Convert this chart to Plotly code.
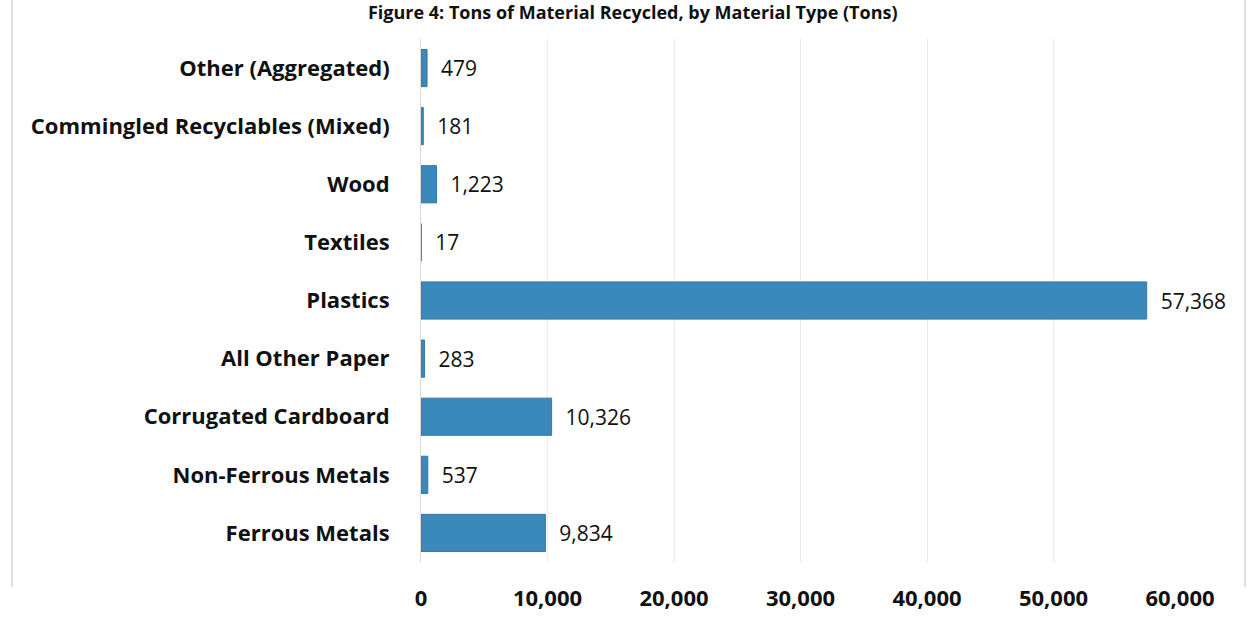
import plotly.graph_objects as go

# Recycled tonnage by material (top row first)
materials = [
    "Other (Aggregated)",
    "Commingled Recyclables (Mixed)",
    "Wood",
    "Textiles",
    "Plastics",
    "All Other Paper",
    "Corrugated Cardboard",
    "Non-Ferrous Metals",
    "Ferrous Metals",
]
tons = [479, 181, 1223, 17, 57368, 283, 10326, 537, 9834]
x_ticks = [0, 10000, 20000, 30000, 40000, 50000, 60000]
x_tick_labels = ["0", "10,000", "20,000", "30,000", "40,000", "50,000", "60,000"]
title_text = "Figure 4: Tons of Material Recycled, by Material Type (Tons)"

W, H = 1248, 625
ML, MR, MT, MB = 421, 68, 39, 63
pw, ph = W - ML - MR, H - MT - MB
FONT = "Open Sans"

fig = go.Figure()
fig.add_trace(go.Bar(
    x=tons,
    y=materials,
    orientation="h",
    width=0.64,
    marker=dict(color="#3b88bb", line=dict(color="#3479a9", width=1)),
    text=tons,
    texttemplate="\u00a0\u00a0%{x:,.0f}",
    textposition="outside",
    cliponaxis=False,
    textfont=dict(family=FONT, size=21, color="#111111"),
    hoverinfo="skip",
))

# chart-area frame (left and right edges)
for px in (12, 1245):
    xp = (px - ML) / pw
    fig.add_shape(type="line", xref="paper", yref="paper",
                  x0=xp, x1=xp, y0=(MT + ph - 587) / ph, y1=(MT + ph) / ph,
                  line=dict(color="#d6d6d6", width=1.5))

fig.update_layout(
    width=W, height=H,
    margin=dict(l=ML, r=MR, t=MT, b=MB),
    paper_bgcolor="white",
    plot_bgcolor="white",
    showlegend=False,
    title=dict(text="<b>" + title_text + "</b>", x=0.507, xanchor="center",
               y=0.99, yanchor="top",
               font=dict(family=FONT, size=18, color="#111111")),
    xaxis=dict(
        range=[0, 60000],
        tickvals=x_ticks,
        ticktext=["<b>" + t + "</b>" for t in x_tick_labels],
        tickfont=dict(family=FONT, size=22, color="#111111"),
        showgrid=True, gridcolor="#ececec", gridwidth=1,
        zeroline=False, showline=False,
        ticks="", ticklabelstandoff=21,
        fixedrange=True,
    ),
    yaxis=dict(
        autorange="reversed",
        tickvals=materials,
        ticktext=["<b>" + m + "</b>" for m in materials],
        tickfont=dict(family=FONT, size=22, color="#111111"),
        showgrid=False, zeroline=False,
        showline=True, linecolor="#d9d9d9", linewidth=1,
        ticks="", ticklabelstandoff=26,
        fixedrange=True,
    ),
)

fig.write_html("out.html")
